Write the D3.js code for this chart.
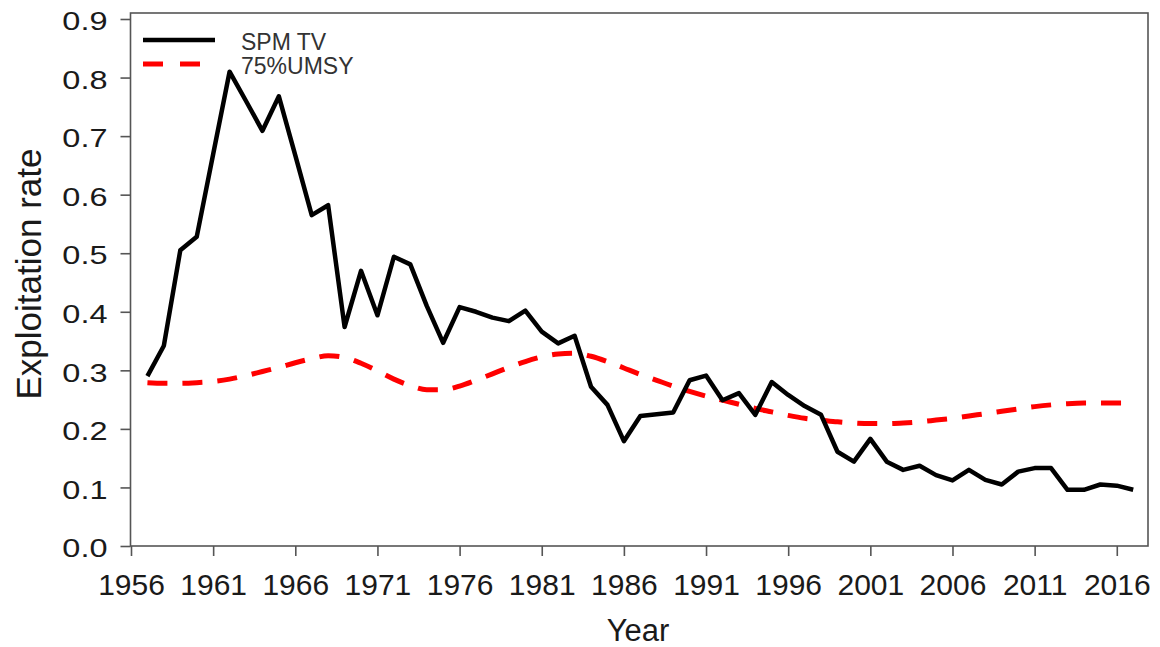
<!DOCTYPE html>
<html>
<head>
<meta charset="utf-8">
<script src="https://cdn.jsdelivr.net/npm/d3@7"></script>
<style>
  body { margin: 0; background: #fff; }
  svg { display: block; font-family: Arial, "Liberation Sans", sans-serif; }
</style>
</head>
<body>
<svg id="chart" width="1160" height="647"></svg>
<script>
// data
const years = d3.range(1957, 2018);
const spmTV = [0.290, 0.342, 0.505, 0.528, 0.669, 0.810, 0.760, 0.709, 0.768, 0.667,
    0.565, 0.582, 0.374, 0.470, 0.394, 0.494, 0.481, 0.410, 0.347, 0.408,
    0.400, 0.390, 0.384, 0.402, 0.366, 0.346, 0.359, 0.272, 0.241, 0.179,
    0.222, 0.225, 0.228, 0.283, 0.291, 0.249, 0.261, 0.224, 0.280, 0.258,
    0.239, 0.224, 0.161, 0.144, 0.183, 0.144, 0.130, 0.137, 0.121, 0.112,
    0.130, 0.113, 0.105, 0.127, 0.133, 0.133, 0.096, 0.096, 0.105, 0.103,
    0.096];
const umsy75 = [0.279, 0.278, 0.278, 0.279, 0.281, 0.285, 0.291, 0.298, 0.305, 0.313,
    0.320, 0.325, 0.322, 0.312, 0.299, 0.285, 0.274, 0.267, 0.267, 0.273,
    0.283, 0.294, 0.305, 0.315, 0.323, 0.328, 0.329, 0.324, 0.315, 0.304,
    0.293, 0.283, 0.273, 0.264, 0.256, 0.249, 0.242, 0.235, 0.229, 0.223,
    0.218, 0.215, 0.212, 0.210, 0.209, 0.209, 0.210, 0.212, 0.215, 0.218,
    0.222, 0.226, 0.230, 0.234, 0.238, 0.241, 0.243, 0.244, 0.244, 0.244,
    0.244];
const xTicks = d3.range(1956, 2017, 5);
const yTicks = d3.range(0, 10).map(d => d / 10);
const seriesNames = ['SPM TV', '75%UMSY'];

const svg = d3.select('#chart');

const plotLeft = 131, plotRight = 1148, plotTop = 13, plotBottom = 546;

const x = d3.scaleLinear()
    .domain([1956, 2017.9])
    .range([plotLeft, plotRight]);

const y = d3.scaleLinear()
    .domain([0, 0.9])
    .range([plotBottom, 19]);

// frame
svg.append('rect')
    .attr('x', plotLeft - 0.5)
    .attr('y', plotTop)
    .attr('width', plotRight - plotLeft + 0.5)
    .attr('height', plotBottom - plotTop)
    .attr('fill', 'none')
    .attr('stroke', '#555')
    .attr('stroke-width', 1.6);

// x axis
const xAxis = svg.append('g')
    .attr('transform', 'translate(0,' + plotBottom + ')')
    .call(d3.axisBottom(x).tickValues(xTicks).tickFormat(d3.format('d')).tickSize(10).tickSizeOuter(0));
xAxis.select('.domain').remove();
xAxis.selectAll('line').attr('stroke', '#555').attr('stroke-width', 1.6);
xAxis.selectAll('text')
    .attr('y', 49)
    .attr('dy', 0)
    .attr('fill', '#1a1a1a')
    .style('font-size', '30px');

// y axis
const yAxis = svg.append('g')
    .attr('transform', 'translate(' + (plotLeft - 0.5) + ',0)')
    .call(d3.axisLeft(y).tickValues(yTicks).tickFormat(d3.format('.1f')).tickSize(10).tickSizeOuter(0));
yAxis.select('.domain').remove();
yAxis.selectAll('line').attr('stroke', '#555').attr('stroke-width', 1.6);
yAxis.selectAll('text')
    .attr('x', 0)
    .attr('dy', '0.43em')
    .attr('transform', 'translate(-23,0) scale(1.3,1)')
    .attr('fill', '#1a1a1a')
    .style('font-size', '25px');

// axis titles
svg.append('text')
    .attr('x', 638)
    .attr('y', 641)
    .attr('text-anchor', 'middle')
    .attr('fill', '#1a1a1a')
    .style('font-size', '31px')
    .text('Year');

svg.append('text')
    .attr('transform', 'translate(41,274) rotate(-90)')
    .attr('text-anchor', 'middle')
    .attr('fill', '#1a1a1a')
    .style('font-size', '35px')
    .text('Exploitation rate');

// lines
const line = d3.line()
    .x((d, i) => x(years[i]))
    .y(d => y(d));

svg.append('path')
    .attr('d', line.curve(d3.curveMonotoneX)(umsy75))
    .attr('fill', 'none')
    .attr('stroke', '#ff0000')
    .attr('stroke-width', 5)
    .attr('stroke-dasharray', '20,15');

svg.append('path')
    .attr('d', line.curve(d3.curveLinear)(spmTV))
    .attr('fill', 'none')
    .attr('stroke', '#000')
    .attr('stroke-width', 4.5)
    .attr('stroke-linejoin', 'round');

// legend
const legend = svg.append('g');
const legendY = [40, 64];
legend.append('line')
    .attr('x1', 143).attr('x2', 215)
    .attr('y1', legendY[0]).attr('y2', legendY[0])
    .attr('stroke', '#000')
    .attr('stroke-width', 4.5);
legend.append('line')
    .attr('x1', 143).attr('x2', 215)
    .attr('y1', legendY[1]).attr('y2', legendY[1])
    .attr('stroke', '#ff0000')
    .attr('stroke-width', 5)
    .attr('stroke-dasharray', '20,17');
legend.selectAll('text.lab')
    .data(seriesNames)
    .enter().append('text')
    .attr('class', 'lab')
    .attr('x', 241)
    .attr('y', (d, i) => legendY[i] + 10)
    .attr('fill', '#333')
    .style('font-size', '23px')
    .text(d => d);
</script>
</body>
</html>
